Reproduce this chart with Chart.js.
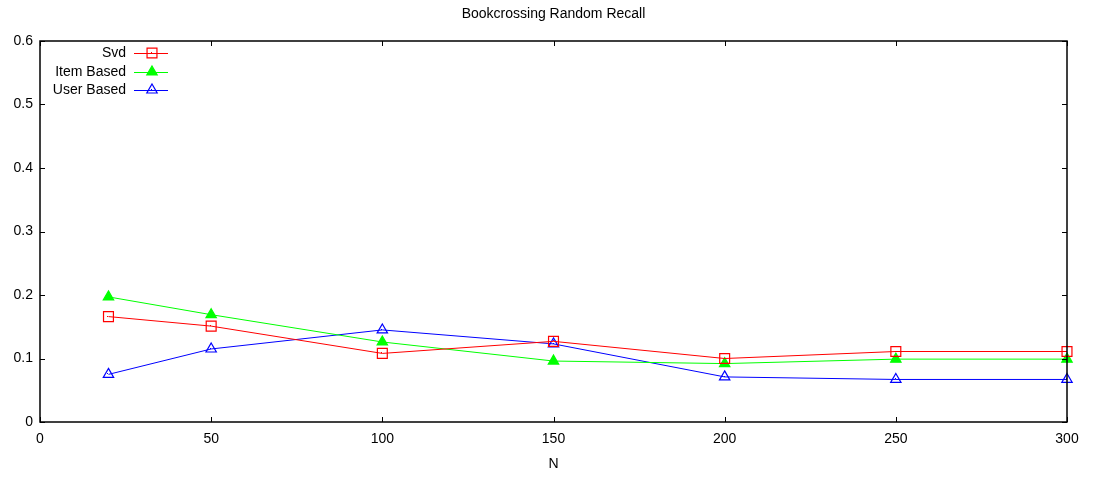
<!DOCTYPE html>
<html>
<head>
<meta charset="utf-8">
<script src="https://cdn.jsdelivr.net/npm/chart.js@4"></script>
<style>
  html, body { margin: 0; padding: 0; background: #fff; }
  #wrap { width: 1095px; height: 480px; }
</style>
</head>
<body>
<div id="wrap"><canvas id="recallChart"></canvas></div>
<script>
// data
const nValues = [20, 50, 100, 150, 200, 250, 300];
const svdRecall = [0.166, 0.151, 0.108, 0.127, 0.100, 0.111, 0.111];
const itemRecall = [0.197, 0.169, 0.126, 0.096, 0.092, 0.099, 0.099];
const userRecall = [0.075, 0.115, 0.145, 0.123, 0.071, 0.067, 0.067];
const seriesNames = ['Svd', 'Item Based', 'User Based'];
const xTicks = [0, 50, 100, 150, 200, 250, 300];
const yTicks = [0, 0.1, 0.2, 0.3, 0.4, 0.5, 0.6];
const chartTitle = 'Bookcrossing Random Recall';

const FONT = 'Liberation Sans';

function toPoints(values) {
    return nValues.map((n, i) => ({ x: n, y: values[i] }));
}

function makeSeries(label, values, color, style, filled, radius) {
    return {
        label: label,
        data: toPoints(values),
        borderColor: color,
        backgroundColor: color,
        borderWidth: 1,
        pointStyle: style,
        pointRadius: radius,
        pointBorderWidth: 1.2,
        pointBorderColor: color,
        pointBackgroundColor: filled ? color : 'rgba(255,255,255,0)',
        fill: false,
        tension: 0,
        clip: false,
        centerDot: !filled
    };
}

function drawMarker(ctx, style, r, x, y) {
    if (style === 'rect') {
        const s = Math.SQRT1_2 * r;
        ctx.rect(x - s, y - s, 2 * s, 2 * s);
    } else {
        let rad = 0;
        ctx.moveTo(x + Math.sin(rad) * r, y - Math.cos(rad) * r);
        rad += 2 * Math.PI / 3;
        ctx.lineTo(x + Math.sin(rad) * r, y - Math.cos(rad) * r);
        rad += 2 * Math.PI / 3;
        ctx.lineTo(x + Math.sin(rad) * r, y - Math.cos(rad) * r);
        ctx.closePath();
    }
}

// gnuplot-like frame, inward ticks, title and legend inside the plot
const gnuplotLook = {
    id: 'gnuplotLook',
    afterDraw(chart) {
        const ctx = chart.ctx;
        const area = chart.chartArea;
        const xs = chart.scales.x;
        const ys = chart.scales.y;
        ctx.save();

        // small dots in open markers
        chart.data.datasets.forEach((ds, di) => {
            if (!ds.centerDot) return;
            const meta = chart.getDatasetMeta(di);
            ctx.fillStyle = ds.borderColor;
            meta.data.forEach(pt => {
                ctx.fillRect(Math.round(pt.x) - 1, Math.round(pt.y) - 1, 1, 1);
            });
        });

        ctx.strokeStyle = '#000';
        ctx.lineWidth = 1;
        ctx.beginPath();
        xTicks.forEach(v => {
            const px = Math.round(xs.getPixelForValue(v)) + 0.5;
            ctx.moveTo(px, area.bottom);
            ctx.lineTo(px, area.bottom - 5);
            ctx.moveTo(px, area.top);
            ctx.lineTo(px, area.top + 5);
        });
        yTicks.forEach(v => {
            const py = Math.round(ys.getPixelForValue(v)) + 0.5;
            ctx.moveTo(area.left, py);
            ctx.lineTo(area.left + 5, py);
            ctx.moveTo(area.right, py);
            ctx.lineTo(area.right - 5, py);
        });
        ctx.stroke();
        ctx.lineWidth = 1.5;
        ctx.strokeRect(area.left, area.top, area.right - area.left, area.bottom - area.top);

        // title
        ctx.fillStyle = '#000';
        ctx.font = '14px "' + FONT + '"';
        ctx.textAlign = 'center';
        ctx.textBaseline = 'middle';
        ctx.fillText(chartTitle, (area.left + area.right) / 2, 14);

        // legend
        const rowY = [53, 72, 90];
        chart.data.datasets.forEach((ds, i) => {
            const y = rowY[i];
            ctx.fillStyle = '#000';
            ctx.textAlign = 'right';
            ctx.fillText(ds.label, 126, y);
            ctx.strokeStyle = ds.borderColor;
            ctx.lineWidth = 1;
            ctx.beginPath();
            ctx.moveTo(134, y + 0.5);
            ctx.lineTo(168, y + 0.5);
            ctx.stroke();
            ctx.lineWidth = 1.2;
            ctx.beginPath();
            drawMarker(ctx, ds.pointStyle, ds.pointRadius, 152, y);
            if (!ds.centerDot) {
                ctx.fillStyle = ds.borderColor;
                ctx.fill();
            }
            ctx.stroke();
            if (ds.centerDot) {
                ctx.fillStyle = ds.borderColor;
                ctx.fillRect(151, y - 1, 1, 1);
            }
        });
        ctx.restore();
    }
};

function initRecallChart() {
    const ctx = document.getElementById('recallChart').getContext('2d');
    new Chart(ctx, {
        type: 'line',
        data: {
            datasets: [
                makeSeries(seriesNames[0], svdRecall, '#ff0000', 'rect', false, 7),
                makeSeries(seriesNames[1], itemRecall, '#00ff00', 'triangle', true, 6),
                makeSeries(seriesNames[2], userRecall, '#0000ff', 'triangle', false, 6)
            ]
        },
        options: {
            responsive: true,
            maintainAspectRatio: false,
            animation: false,
            events: [],
            layout: { padding: { top: 41, right: 28, left: 0, bottom: 0 } },
            scales: {
                x: {
                    type: 'linear',
                    min: 0,
                    max: 300,
                    afterFit(scale) { scale.height = 58; },
                    afterBuildTicks(scale) { scale.ticks = xTicks.map(v => ({ value: v })); },
                    grid: { display: false, drawTicks: false },
                    border: { display: false },
                    ticks: {
                        color: '#000',
                        padding: 9,
                        maxRotation: 0,
                        font: { family: FONT, size: 14 }
                    },
                    title: {
                        display: true,
                        text: 'N',
                        color: '#000',
                        padding: { top: 0, bottom: 7 },
                        font: { family: FONT, size: 14 }
                    }
                },
                y: {
                    type: 'linear',
                    min: 0,
                    max: 0.6,
                    afterFit(scale) { scale.width = 40; },
                    afterBuildTicks(scale) { scale.ticks = yTicks.map(v => ({ value: v })); },
                    grid: { display: false, drawTicks: false },
                    border: { display: false },
                    ticks: {
                        color: '#000',
                        padding: 7,
                        font: { family: FONT, size: 14 },
                        callback: v => String(Math.round(v * 10) / 10)
                    }
                }
            },
            plugins: {
                legend: { display: false },
                title: { display: false },
                tooltip: { enabled: false }
            }
        },
        plugins: [gnuplotLook]
    });
}

document.addEventListener('DOMContentLoaded', () => {
    initRecallChart();
});
</script>
</body>
</html>
